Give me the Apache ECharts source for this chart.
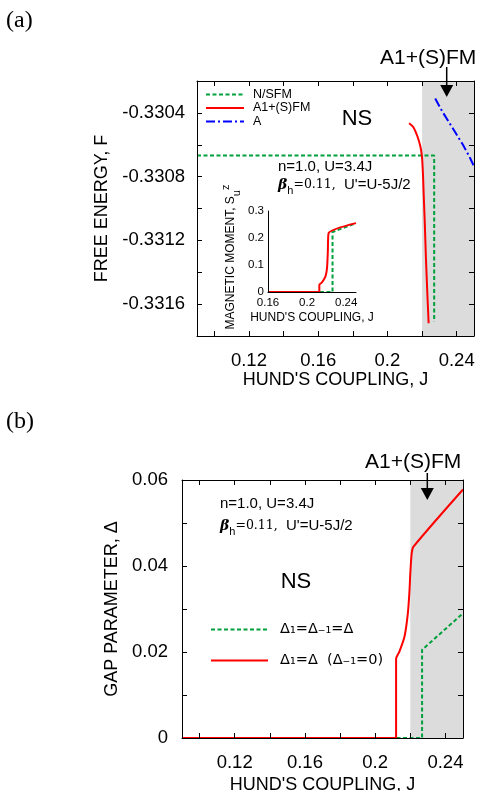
<!DOCTYPE html>
<html>
<head>
<meta charset="utf-8">
<script src="https://cdn.jsdelivr.net/npm/echarts@6/dist/echarts.min.js"></script>
<style>
html,body{margin:0;padding:0;background:#fff;}
#c{width:477px;height:791px;}
</style>
</head>
<body>
<div id="c"></div>
<script>
// ---------- data ----------
// Panel (a): free energy F vs Hund's coupling J
const J_NSFM = [0.09, 0.227, 0.227];
const F_NSFM = [-0.330668, -0.330668, -0.331711];
const J_A1 = [0.2125, 0.2150, 0.2174, 0.2190, 0.2199, 0.2205, 0.2209, 0.2216, 0.2222, 0.2230, 0.2238];
const F_A1 = [-0.330465, -0.33049, -0.33055, -0.33061, -0.33067, -0.33078, -0.33090, -0.33110, -0.33130, -0.33152, -0.33172];
const J_A = [0.2276, 0.2316, 0.2356, 0.2396, 0.2436, 0.2476, 0.2506];
const F_A = [-0.33031, -0.33039, -0.33046, -0.33053, -0.33060, -0.33068, -0.33075];
// Inset: magnetic moment
const J_M_NSFM = [0.16, 0.226, 0.226, 0.25];
const M_NSFM = [0, 0, 0.222, 0.255];
const J_M_A1 = [0.16, 0.2125, 0.2125, 0.215, 0.217, 0.219, 0.2204, 0.2212, 0.222, 0.25];
const M_A1 = [0, 0, 0.027, 0.035, 0.045, 0.06, 0.09, 0.15, 0.218, 0.255];
// Panel (b): gap parameter
const J_D_NSFM = [0.09, 0.2267, 0.2267, 0.25];
const D_NSFM = [0, 0, 0.0205, 0.029];
const J_D_A1 = [0.09, 0.2119, 0.2119, 0.2138, 0.2167, 0.2186, 0.2195, 0.2200, 0.2208, 0.2218, 0.25];
const D_A1 = [0, 0, 0.0184, 0.0201, 0.0236, 0.029, 0.034, 0.0383, 0.043, 0.0445, 0.0578];
// shaded A1+(S)FM region
const SHADE_J = [0.22, 0.25];
// ticks
const X_TICKS = [0.10, 0.12, 0.14, 0.16, 0.18, 0.20, 0.22, 0.24];
const X_LABELS = [0.12, 0.16, 0.20, 0.24];
const F_TICKS = [-0.3316, -0.3314, -0.3312, -0.3310, -0.3308, -0.3306, -0.3304];
const F_LABELS = [-0.3316, -0.3312, -0.3308, -0.3304];
const IN_X_LABELS = [0.16, 0.20, 0.24];
const IN_Y_LABELS = [0, 0.1, 0.2, 0.3];
const D_TICKS = [0.01, 0.02, 0.03, 0.04, 0.05];
const D_LABELS = [0, 0.02, 0.04, 0.06];
const LEG_A = ['N/SFM', 'A1+(S)FM', 'A'];
const LEG_B = ['Δ₁=Δ₋₁=Δ', 'Δ₁=Δ  (Δ₋₁=0)'];

// ---------- helpers ----------
const zip = (a, b) => a.map((v, i) => [v, b[i]]);
const FONT = 'Liberation Sans';
const GREEN = '#00a03c';
const fmt2 = v => String(Math.round(v * 100) / 100);

function xAx(grid, pos, opts) {
  return Object.assign({
    type: 'value', gridIndex: grid, position: pos, min: 0.09, max: 0.25, z: 10,
    axisLine: {show: true, onZero: false, lineStyle: {color: '#000', width: 1}},
    axisTick: {show: true, inside: true, length: 5, lineStyle: {color: '#000'}, customValues: X_TICKS},
    axisLabel: {show: pos === 'bottom', customValues: X_LABELS, formatter: fmt2, color: '#000', fontFamily: FONT, fontSize: 18.5, margin: 15},
    splitLine: {show: false}
  }, opts || {});
}

const chart = echarts.init(document.getElementById('c'), null, {renderer: 'canvas'});

const hiddenSymbol = {color: 'rgba(0,0,0,0)', borderWidth: 0, opacity: 0};

const option = {
  animation: false,
  backgroundColor: '#fff',
  grid: [
    {left: 197, top: 81, width: 277, height: 255, outerBoundsMode: 'none', containLabel: false},
    {left: 268, top: 211, width: 88, height: 81, outerBoundsMode: 'none', containLabel: false},
    {left: 182, top: 480, width: 281, height: 258, outerBoundsMode: 'none', containLabel: false}
  ],
  xAxis: [
    xAx(0, 'bottom', {name: "HUND'S COUPLING, J", nameLocation: 'middle', nameGap: 35,
      nameTextStyle: {color: '#000', fontFamily: FONT, fontSize: 18}}),
    xAx(0, 'top'),
    {type: 'value', gridIndex: 1, min: 0.16, max: 0.25, z: 10,
      axisLine: {show: true, onZero: false, lineStyle: {color: '#000'}},
      axisTick: {show: false},
      axisLabel: {customValues: IN_X_LABELS, formatter: fmt2, color: '#000', fontFamily: FONT, fontSize: 11.5, margin: 5},
      splitLine: {show: false},
      name: "HUND'S COUPLING, J", nameLocation: 'middle', nameGap: 20,
      nameTextStyle: {color: '#000', fontFamily: FONT, fontSize: 12}},
    xAx(2, 'bottom', {name: "HUND'S COUPLING, J", nameLocation: 'middle', nameGap: 38,
      nameTextStyle: {color: '#000', fontFamily: FONT, fontSize: 18}}),
    xAx(2, 'top')
  ],
  yAxis: [
    {type: 'value', gridIndex: 0, position: 'left', min: -0.3318, max: -0.3302, z: 10,
      axisLine: {show: true, onZero: false, lineStyle: {color: '#000'}},
      axisTick: {show: true, inside: true, length: 5, lineStyle: {color: '#000'}, customValues: F_TICKS},
      axisLabel: {customValues: F_LABELS, formatter: v => v.toFixed(4), color: '#000', fontFamily: FONT, fontSize: 18.5, margin: 12},
      splitLine: {show: false},
      name: 'FREE ENERGY, F', nameLocation: 'middle', nameGap: 79,
      nameTextStyle: {color: '#000', fontFamily: FONT, fontSize: 18}},
    {type: 'value', gridIndex: 0, position: 'right', min: -0.3318, max: -0.3302, z: 10,
      axisLine: {show: true, onZero: false, lineStyle: {color: '#000'}},
      axisTick: {show: true, inside: true, length: 5, lineStyle: {color: '#000'}, customValues: F_TICKS},
      axisLabel: {show: false}, splitLine: {show: false}},
    {type: 'value', gridIndex: 1, min: 0, max: 0.3, z: 10,
      axisLine: {show: true, onZero: false, lineStyle: {color: '#000'}},
      axisTick: {show: false},
      axisLabel: {customValues: IN_Y_LABELS, formatter: fmt2, color: '#000', fontFamily: FONT, fontSize: 11.5, margin: 4},
      splitLine: {show: false}},
    {type: 'value', gridIndex: 2, position: 'left', min: 0, max: 0.06, z: 10,
      axisLine: {show: true, onZero: false, lineStyle: {color: '#000'}},
      axisTick: {show: true, inside: true, length: 5, lineStyle: {color: '#000'}, customValues: D_TICKS},
      axisLabel: {customValues: D_LABELS, formatter: fmt2, color: '#000', fontFamily: FONT, fontSize: 18.5, margin: 14},
      splitLine: {show: false},
      name: 'GAP PARAMETER, Δ', nameLocation: 'middle', nameGap: 52,
      nameTextStyle: {color: '#000', fontFamily: FONT, fontSize: 18}},
    {type: 'value', gridIndex: 2, position: 'right', min: 0, max: 0.06, z: 10,
      axisLine: {show: true, onZero: false, lineStyle: {color: '#000'}},
      axisTick: {show: true, inside: true, length: 5, lineStyle: {color: '#000'}, customValues: D_TICKS},
      axisLabel: {show: false}, splitLine: {show: false}}
  ],
  legend: [
    {data: LEG_A, left: 205, top: 88, orient: 'vertical', padding: 0,
      itemWidth: 38, itemHeight: 13, itemGap: 0.5, selectedMode: false,
      itemStyle: hiddenSymbol,
      textStyle: {color: '#000', fontFamily: FONT, fontSize: 12.5, lineHeight: 13, padding: [0, 0, 0, 4]}},
    {data: LEG_B, left: 210, top: 622, orient: 'vertical', padding: 0,
      itemWidth: 57, itemHeight: 14, itemGap: 16, selectedMode: false,
      itemStyle: hiddenSymbol,
      textStyle: {color: '#000', fontFamily: 'DejaVu Sans', fontSize: 14.5, lineHeight: 14, padding: [0, 0, 0, 7]}}
  ],
  series: [
    {type: 'line', name: 'shadeA', xAxisIndex: 0, yAxisIndex: 0, data: [], symbol: 'none', silent: true,
      markArea: {silent: true, itemStyle: {color: '#dcdcdc'}, data: [[{xAxis: SHADE_J[0]}, {xAxis: SHADE_J[1]}]]}},
    {type: 'line', name: 'N/SFM', xAxisIndex: 0, yAxisIndex: 0, data: zip(J_NSFM, F_NSFM), symbol: 'none',
      lineStyle: {color: GREEN, width: 2, type: [4, 2.5]}, itemStyle: {color: GREEN}},
    {type: 'line', name: 'A1+(S)FM', xAxisIndex: 0, yAxisIndex: 0, data: zip(J_A1, F_A1), symbol: 'none', smooth: 0.3,
      lineStyle: {color: '#ff0000', width: 2}, itemStyle: {color: '#ff0000'}},
    {type: 'line', name: 'A', xAxisIndex: 0, yAxisIndex: 0, data: zip(J_A, F_A), symbol: 'none',
      lineStyle: {color: '#0000ff', width: 2, type: [9, 3, 2, 3]}, itemStyle: {color: '#0000ff'}},
    {type: 'line', name: 'inset N/SFM', xAxisIndex: 2, yAxisIndex: 2, data: zip(J_M_NSFM, M_NSFM), symbol: 'none',
      lineStyle: {color: GREEN, width: 2, type: [4, 2.5]}},
    {type: 'line', name: 'inset A1', xAxisIndex: 2, yAxisIndex: 2, data: zip(J_M_A1, M_A1), symbol: 'none', smooth: 0.2,
      lineStyle: {color: '#ff0000', width: 2}},
    {type: 'line', name: 'shadeB', xAxisIndex: 3, yAxisIndex: 3, data: [], symbol: 'none', silent: true,
      markArea: {silent: true, itemStyle: {color: '#dcdcdc'}, data: [[{xAxis: SHADE_J[0]}, {xAxis: SHADE_J[1]}]]}},
    {type: 'line', name: LEG_B[0], xAxisIndex: 3, yAxisIndex: 3, data: zip(J_D_NSFM, D_NSFM), symbol: 'none',
      lineStyle: {color: GREEN, width: 2, type: [4, 2.5]}, itemStyle: {color: GREEN}},
    {type: 'line', name: LEG_B[1], xAxisIndex: 3, yAxisIndex: 3, data: zip(J_D_A1, D_A1), symbol: 'none', smooth: 0.25,
      lineStyle: {color: '#ff0000', width: 2}, itemStyle: {color: '#ff0000'}}
  ],
  graphic: []
};

const betaRich = {
  b: {fontFamily: 'DejaVu Serif', fontStyle: 'italic', fontWeight: 'bold', fontSize: 14, lineHeight: 22, verticalAlign: 'middle', fill: '#000'},
  s: {fontFamily: FONT, fontSize: 11, lineHeight: 11, verticalAlign: 'bottom', fill: '#000'},
  n: {fontFamily: 'DejaVu Serif', fontSize: 12.5, lineHeight: 22, verticalAlign: 'middle', fill: '#000'},
  u: {fontFamily: FONT, fontSize: 15, lineHeight: 22, verticalAlign: 'middle', fill: '#000'}
};
function txt(x, y, text, size, extra) {
  return {type: 'text', x: x, y: y, z: 50, silent: true,
    style: Object.assign({text: text, fontFamily: FONT, fontSize: size, fill: '#000', verticalAlign: 'middle'}, extra || {})};
}
function arrow(x, y1, y2) {
  return [
    {type: 'line', z: 50, silent: true, shape: {x1: x, y1: y1, x2: x, y2: y2 - 8}, style: {stroke: '#000', lineWidth: 1.5}},
    {type: 'polygon', z: 50, silent: true, shape: {points: [[x - 6.5, y2 - 12], [x + 6.5, y2 - 12], [x, y2]]}, style: {fill: '#000'}}
  ];
}
option.graphic = [
  txt(6, 21, '(a)', 24, {fontFamily: 'Liberation Serif'}),
  txt(6, 422, '(b)', 24, {fontFamily: 'Liberation Serif'}),
  txt(380, 58, 'A1+(S)FM', 21),
  txt(365, 462, 'A1+(S)FM', 21),
  ...arrow(446.7, 67, 97),
  ...arrow(427.3, 473, 500),
  txt(357, 119, 'NS', 22, {align: 'center'}),
  txt(296, 582, 'NS', 22, {align: 'center'}),
  txt(278, 167, 'n=1.0, U=3.4J', 15),
  txt(278, 185, '{b|β}{s|h}{n|=0.11,}{u|  U\'=U-5J/2}', 15, {rich: betaRich}),
  txt(220, 504, 'n=1.0, U=3.4J', 15),
  txt(220, 526, '{b|β}{s|h}{n|=0.11,}{u|  U\'=U-5J/2}', 15, {rich: betaRich}),
  {type: 'text', x: 231, y: 257, rotation: Math.PI / 2, z: 50, silent: true,
    style: {text: '{t|MAGNETIC MOMENT, S}{s|u}{p|z}', align: 'center', verticalAlign: 'middle',
      rich: {
        t: {fontFamily: FONT, fontSize: 12, lineHeight: 22, verticalAlign: 'middle', fill: '#000'},
        s: {fontFamily: FONT, fontSize: 11, lineHeight: 11, verticalAlign: 'bottom', fill: '#000'},
        p: {fontFamily: FONT, fontSize: 11, lineHeight: 11, verticalAlign: 'top', fill: '#000'}
      }}}
];

chart.setOption(option);
</script>
</body>
</html>
